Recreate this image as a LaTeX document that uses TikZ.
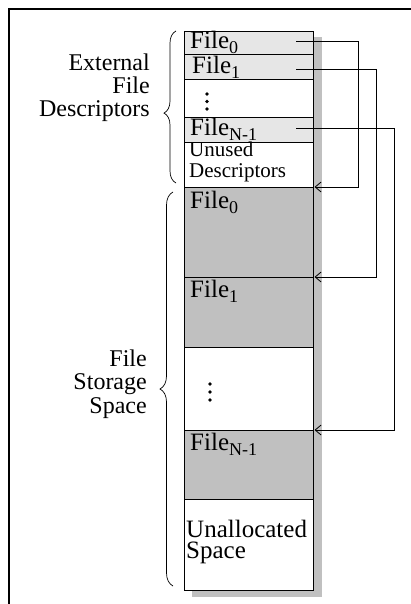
\documentclass[tikz,border=0pt]{standalone}
\usepackage{fontspec}
\setmainfont{Liberation Serif}
\usetikzlibrary{arrows.meta,decorations.pathreplacing}
\definecolor{descgray}{HTML}{E6E6E6}
\definecolor{storegray}{HTML}{C0C0C0}
\newcommand{\subtxt}[1]{\raisebox{-5pt}{\fontsize{18}{18}\selectfont #1}}
\begin{document}
\begin{tikzpicture}[x=1pt,y=-1pt,
  cell/.style={draw=black, line width=0.9pt, minimum width=129pt, inner sep=0pt, outer sep=0pt, anchor=north west},
  desc/.style={cell, fill=descgray},
  store/.style={cell, fill=storegray},
  blank/.style={cell, fill=white},
  lbl/.style={inner sep=0pt, anchor=base west, font=\fontsize{25}{23}\selectfont},
  small/.style={inner sep=0pt, anchor=base west, font=\fontsize{21}{20}\selectfont},
  side/.style={inner sep=0pt, anchor=base east, font=\fontsize{24}{23}\selectfont},
  link/.style={draw=black, line width=0.8pt, -{Straight Barb[length=6pt,width=10pt]}},
  curly/.style={draw=black, line width=0.7pt, decorate},
  dot/.style={fill=black, circle, inner sep=0pt, minimum size=3.8pt}
]
\useasboundingbox (0,0) rectangle (411,604);

% outer frame (open to the right and bottom)
\draw[line width=2pt] (9,606) -- (9,9) -- (413,9);

% drop shadow of the column
\fill[storegray] (313,37) rectangle (322,597);
\fill[storegray] (192,590) rectangle (322,597);

% descriptor table
\node[desc,  minimum height=23pt] (d0) at (184,31)  {};
\node[desc,  minimum height=25pt] (d1) at (184,54)  {};
\node[blank, minimum height=38pt] (d2) at (184,79)  {};
\node[desc,  minimum height=25pt] (d3) at (184,117) {};
\node[blank, minimum height=45pt] (d4) at (184,142) {};

% storage area
\node[store, minimum height=90pt] (s0) at (184,187) {};
\node[store, minimum height=70pt] (s1) at (184,277) {};
\node[blank, minimum height=83pt] (s2) at (184,347) {};
\node[store, minimum height=69pt] (s3) at (184,430) {};
\node[blank, minimum height=91pt] (s4) at (184,499) {};

% cell texts
\node[lbl] (t0) at (190,49)  {File\subtxt{0}};
\node[lbl] (t1) at (192,74)  {File\subtxt{1}};
\node[lbl] (t3) at (190,136) {File\subtxt{N-1}};
\node[small] (u1) at (189,157) {Unused};
\node[small] (u2) at (189,177) {Descriptors};
\node[lbl] (f0) at (190,208) {File\subtxt{0}};
\node[lbl] (f1) at (190,297) {File\subtxt{1}};
\node[lbl] (f3) at (190,450) {File\subtxt{N-1}};
\node[lbl] (a1) at (186,537) {Unallocated};
\node[lbl] (a2) at (186,558) {Space};

% ellipsis dots
\node[dot] (e1) at (207,94)  {};
\node[dot] (e2) at (207,101.5) {};
\node[dot] (e3) at (207,109) {};
\node[dot] (g1) at (210,384) {};
\node[dot] (g2) at (210,392) {};
\node[dot] (g3) at (210,400) {};

% side labels
\node[side] (x1) at (150,71)  {External};
\node[side] (x2) at (150,94)  {File};
\node[side] (x3) at (150,117) {Descriptors};
\node[side] (y1) at (147,366)   {File};
\node[side] (y2) at (147,389.5) {Storage};
\node[side] (y3) at (147,413)   {Space};

% braces
\draw[curly, decoration={brace, amplitude=12pt, aspect=0.46}] (176,183) -- (176,31);
\draw[curly, decoration={brace, amplitude=13pt}] (173,586) -- (173,192);

% descriptor -> storage links
\draw[link] ([xshift=-17pt,yshift=1.5pt]d0.east) -- ++(62,0) |- ([xshift=1.5pt]s0.north east);
\draw[link] ([xshift=-17pt,yshift=-2.5pt]d1.east) -- ++(80,0) |- ([xshift=1.5pt]s1.north east);
\draw[link] ([xshift=-17pt,yshift=1.5pt]d3.east) -- ++(98,0) |- ([xshift=1.5pt]s3.north east);
\end{tikzpicture}
\end{document}
